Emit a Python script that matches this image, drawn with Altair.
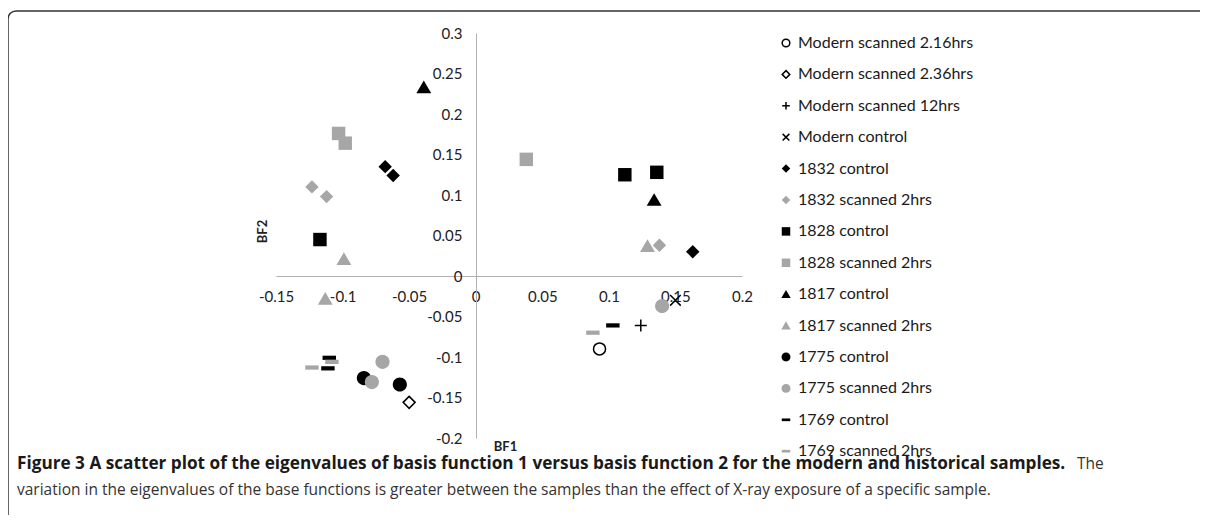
import altair as alt
import pandas as pd

# ---------------- data ----------------
series_names = [
    "Modern scanned 2.16hrs", "Modern scanned 2.36hrs", "Modern scanned 12hrs",
    "Modern control", "1832 control", "1832 scanned 2hrs", "1828 control",
    "1828 scanned 2hrs", "1817 control", "1817 scanned 2hrs", "1775 control",
    "1775 scanned 2hrs", "1769 control", "1769 scanned 2hrs",
]

point_series = [
    "Modern scanned 2.16hrs",
    "Modern scanned 2.36hrs",
    "Modern scanned 12hrs",
    "Modern control",
    "1832 control", "1832 control", "1832 control",
    "1832 scanned 2hrs", "1832 scanned 2hrs", "1832 scanned 2hrs",
    "1828 control", "1828 control", "1828 control",
    "1828 scanned 2hrs", "1828 scanned 2hrs", "1828 scanned 2hrs",
    "1817 control", "1817 control",
    "1817 scanned 2hrs", "1817 scanned 2hrs", "1817 scanned 2hrs",
    "1775 control", "1775 control",
    "1775 scanned 2hrs", "1775 scanned 2hrs", "1775 scanned 2hrs",
    "1769 control", "1769 control", "1769 control",
    "1769 scanned 2hrs", "1769 scanned 2hrs", "1769 scanned 2hrs",
]
bf1 = [
    0.093, -0.050, 0.124, 0.150,
    -0.068, -0.062, 0.163,
    -0.123, -0.112, 0.138,
    -0.117, 0.112, 0.136,
    -0.103, -0.098, 0.038,
    -0.039, 0.134,
    -0.099, -0.113, 0.129,
    -0.084, -0.057,
    -0.070, -0.078, 0.140,
    -0.110, -0.111, 0.103,
    -0.108, -0.123, 0.088,
]
bf2 = [
    -0.090, -0.156, -0.061, -0.030,
    0.135, 0.124, 0.030,
    0.110, 0.098, 0.038,
    0.045, 0.125, 0.128,
    0.176, 0.164, 0.144,
    0.233, 0.094,
    0.021, -0.028, 0.037,
    -0.126, -0.134,
    -0.106, -0.131, -0.037,
    -0.101, -0.114, -0.061,
    -0.106, -0.113, -0.070,
]

x_ticks = [-0.15, -0.1, -0.05, 0, 0.05, 0.1, 0.15, 0.2]
y_ticks = [-0.2, -0.15, -0.1, -0.05, 0, 0.05, 0.1, 0.15, 0.2, 0.25, 0.3]

caption_bold = ("Figure 3 A scatter plot of the eigenvalues of basis function 1 versus "
                "basis function 2 for the modern and historical samples.")
caption_rest1 = "The"
caption_line2 = ("variation in the eigenvalues of the base functions is greater between the "
                 "samples than the effect of X-ray exposure of a specific sample.")

# ---------------- styling ----------------
GRAY = "#a6a6a6"
FONT = "Lato"
CAP_FONT = "Open Sans"

P_CIRC_O = "M0.85,0A0.85,0.85,0,1,1,-0.85,0A0.85,0.85,0,1,1,0.85,0Z"
P_DIAM_O = "M0,-0.85L0.85,0L0,0.85L-0.85,0Z"
P_PLUS = "M-0.85,0L0.85,0M0,-0.85L0,0.85"
P_X = "M-0.75,-0.75L0.75,0.75M-0.75,0.75L0.75,-0.75"
P_DIAM = "M0,-0.95L0.95,0L0,0.95L-0.95,0Z"
P_SQ = "M-0.95,-0.95L0.95,-0.95L0.95,0.95L-0.95,0.95Z"
P_TRI = "M0,-0.95L1.05,0.85L-1.05,0.85Z"
P_CIRC = "M1,0A1,1,0,1,1,-1,0A1,1,0,1,1,1,0Z"
P_DASH = "M-0.95,-0.3L0.95,-0.3L0.95,0.3L-0.95,0.3Z"

shape_range = [P_CIRC_O, P_DIAM_O, P_PLUS, P_X, P_DIAM, P_DIAM, P_SQ, P_SQ,
               P_TRI, P_TRI, P_CIRC, P_CIRC, P_DASH, P_DASH]
fill_range = ["transparent"] * 4 + ["black", GRAY] * 5
stroke_range = ["black"] * 4 + ["transparent"] * 10

df = pd.DataFrame({"series": point_series, "BF1": bf1, "BF2": bf2})

W, H = 466, 405
PAD_L, PAD_T = 268, 25
TOTAL_W, TOTAL_H = 1192, 507

label_expr = "'' + datum.value"

points = alt.Chart(df).mark_point(
    filled=True, size=200, strokeWidth=1.5, opacity=1
).encode(
    x=alt.X("BF1:Q",
            scale=alt.Scale(domain=[-0.15, 0.2], nice=False, zero=False),
            axis=alt.Axis(values=x_ticks, labelExpr=label_expr, grid=False, ticks=False,
                          offset=-162, labelPadding=13, domainColor="#b0b0b0",
                          title="BF1", titleX=229, titleY=170, titleBaseline="middle",
                          titleFont=FONT, titleFontSize=13, titleFontWeight="bold",
                          titleColor="#222222", labelFlush=False, labelOverlap=False)),
    y=alt.Y("BF2:Q",
            scale=alt.Scale(domain=[-0.2, 0.3], nice=False, zero=False),
            axis=alt.Axis(values=y_ticks, labelExpr=label_expr, grid=False, ticks=False,
                          offset=-200, labelPadding=14, domainColor="#b0b0b0",
                          title="BF2", titleX=-214, titleY=198, titleAngle=-90,
                          titleBaseline="middle", titleAlign="center",
                          titleFont=FONT, titleFontSize=13, titleFontWeight="bold",
                          titleColor="#222222", labelFlush=False, labelOverlap=False)),
    shape=alt.Shape("series:N", scale=alt.Scale(domain=series_names, range=shape_range),
                    title=None,
                    legend=alt.Legend(orient="none", legendX=502, legendY=2,
                                      symbolSize=80, symbolStrokeWidth=1.5,
                                      labelFont=FONT, labelFontSize=16,
                                      labelColor="#1a1a1a", labelOffset=4,
                                      rowPadding=15.4, labelLimit=400)),
    fill=alt.Fill("series:N", scale=alt.Scale(domain=series_names, range=fill_range),
                  title=None),
    stroke=alt.Stroke("series:N", scale=alt.Scale(domain=series_names, range=stroke_range),
                      title=None),
)

one = pd.DataFrame({"k": [0]})

border = alt.Chart(one).mark_rect(
    fillOpacity=0, stroke="#333333", strokeWidth=1.5, cornerRadius=8
).encode(
    x=alt.value(8 - 276), x2=alt.value(3000), y=alt.value(11 - 33), y2=alt.value(3000)
)

cap1 = alt.Chart(one).mark_text(
    text=caption_bold, align="left", baseline="middle", font=CAP_FONT,
    fontSize=17.2, fontWeight="bold", color="#1a1a1a"
).encode(x=alt.value(17 - 276), y=alt.value(464 - 33))

cap1b = alt.Chart(one).mark_text(
    text=caption_rest1, align="left", baseline="middle", font=CAP_FONT,
    fontSize=15.5, color="#333333"
).encode(x=alt.value(1077 - 276), y=alt.value(464 - 33))

cap2 = alt.Chart(one).mark_text(
    text=caption_line2, align="left", baseline="middle", font=CAP_FONT,
    fontSize=15.5, color="#333333"
).encode(x=alt.value(17 - 276), y=alt.value(490 - 33))

chart = alt.layer(border, points, cap1, cap1b, cap2).properties(
    width=W, height=H,
    autosize=alt.AutoSizeParams(type="none"),
    padding={"left": PAD_L, "top": PAD_T, "right": TOTAL_W - PAD_L - W,
             "bottom": TOTAL_H - PAD_T - H},
).configure_view(stroke=None).configure_axis(
    labelFont=FONT, labelFontSize=15, labelColor="#222222"
)

chart.save("out.html", embed_options={"renderer": "svg", "actions": False})
